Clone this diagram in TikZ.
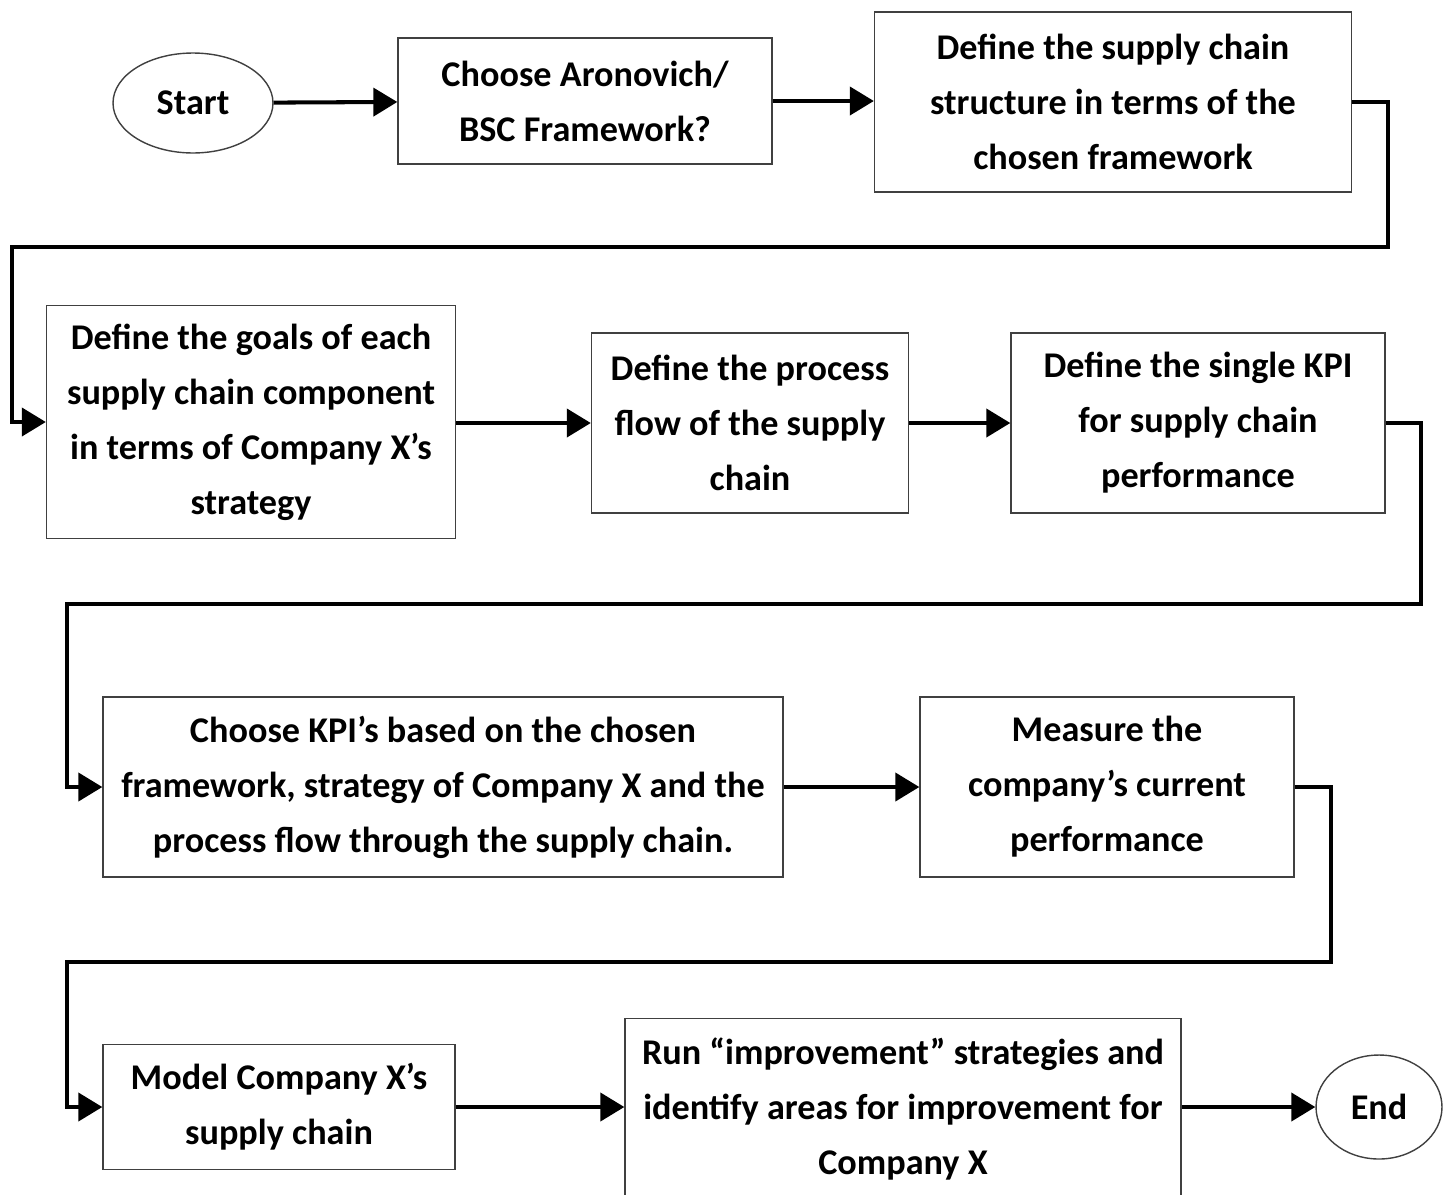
\documentclass[tikz,border=0pt]{standalone}
\usepackage{fontspec}
\setmainfont{Carlito}
\usetikzlibrary{arrows.meta,shapes.geometric}

\begin{document}
\begin{tikzpicture}[x=0.02cm,y=-0.02cm,
 step box/.style={draw=black!75,line width=0.8pt,fill=white,align=center,
  inner sep=0pt,font=\fontsize{20.6}{31.3}\selectfont\bfseries},
 terminal/.style={ellipse,draw=black!75,line width=0.8pt,inner sep=0pt,
  font=\fontsize{20.6}{31.3}\selectfont\bfseries},
 link/.style={line width=2.3pt,-{Triangle[length=0.48cm,width=0.56cm]}}]
 \useasboundingbox (0,0) rectangle (1449,1194);

 \node[terminal,minimum width=3.2cm,minimum height=2cm] (start) at (193,103) {Start};
 \node[step box,minimum width=7.48cm,minimum height=2.52cm] (choose) at (585,101)
  {Choose Aronovich/\\BSC Framework?};
 \node[step box,minimum width=9.54cm,minimum height=3.6cm] (structure) at (1113,102)
  {Define the supply chain\\structure in terms of the\\chosen framework};

 \node[step box,minimum width=8.18cm,minimum height=4.66cm] (goals) at (251,422)
  {Define the goals of each\\supply chain component\\in terms of Company X’s\\strategy};
 \node[step box,minimum width=6.34cm,minimum height=3.6cm] (process) at (750,423)
  {Define the process\\flow of the supply\\chain};
 \node[step box,minimum width=7.48cm,minimum height=3.6cm] (kpi) at (1198,423)
  {Define the single KPI\\for supply chain\\performance};

 \node[step box,minimum width=13.6cm,minimum height=3.6cm] (kpis) at (443,787)
  {Choose KPI’s based on the chosen\\framework, strategy of Company X and the\\process flow through the supply chain.};
 \node[step box,minimum width=7.48cm,minimum height=3.6cm] (measure) at (1107,787)
  {Measure the\\company’s current\\performance};

 \node[step box,minimum width=7.04cm,minimum height=2.5cm] (model) at (279,1107)
  {Model Company X’s\\supply chain};
 \node[step box,minimum width=11.12cm,minimum height=3.6cm,anchor=north] (run) at (903,1018)
  {Run “improvement” strategies and\\identify areas for improvement for\\Company X};
 \node[terminal,minimum width=2.52cm,minimum height=2.08cm] (end) at (1379,1107) {End};

 \coordinate (r1) at (1388,247);
 \coordinate (l1) at (12,247);
 \coordinate (r2) at (1421,604);
 \coordinate (l2) at (67,604);
 \coordinate (r3) at (1331,962);
 \coordinate (l3) at (67,962);

 \draw[link] (start) -- (choose);
 \draw[link] (choose) -- (structure.west |- choose);
 \draw[link] (structure.east) -| (r1) -- (l1) |- (goals.west);
 \draw[link] (goals.east |- process) -- (process);
 \draw[link] (process) -- (kpi);
 \draw[link] (kpi.east) -| (r2) -- (l2) |- (kpis.west);
 \draw[link] (kpis) -- (measure);
 \draw[link] (measure.east) -| (r3) -- (l3) |- (model.west);
 \draw[link] (model.east) -- (run.west |- model.east);
 \draw[link] (run.east |- end) -- (end);

 \end{tikzpicture}
\end{document}
